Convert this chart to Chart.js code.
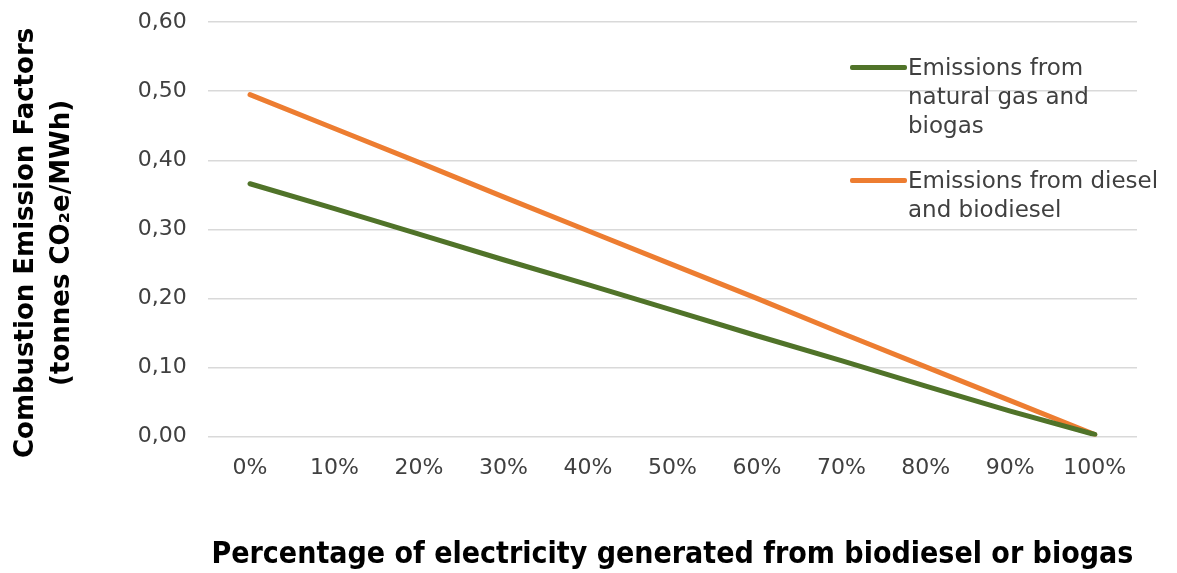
<!DOCTYPE html>
<html lang="en">
<head>
  <meta charset="UTF-8">
  <title>Combustion Emission Factors</title>
  <script src="https://cdn.jsdelivr.net/npm/chart.js"></script>
  <style>
    body { margin: 0; background: #fff; }
    #wrap { position: relative; width: 1177px; height: 573px; }
    .leg { position: absolute; font-family: "DejaVu Sans", Verdana, sans-serif; font-size: 23px; line-height: 29px; color: #404040; white-space: nowrap; }
    .leg i { position: absolute; left: -58px; top: 12px; width: 57px; height: 5px; border-radius: 2px; }
  </style>
</head>
<body>
  <div id="wrap">
    <canvas id="chart" width="1177" height="573"></canvas>
    <div class="leg" style="left:908px; top:53px;"><i style="background:#507329"></i>Emissions from<br>natural gas and<br>biogas</div>
    <div class="leg" style="left:908px; top:166px;"><i style="background:#ed7d31"></i>Emissions from diesel<br>and biodiesel</div>
  </div>
  <script>
    // categories (share of bio fuel)
    const labels = ['0%', '10%', '20%', '30%', '40%', '50%', '60%', '70%', '80%', '90%', '100%'];
    // values
    const gasValues = [0.366, 0.330, 0.293, 0.256, 0.220, 0.183, 0.146, 0.110, 0.073, 0.037, 0.003];
    const dieselValues = [0.495, 0.446, 0.397, 0.347, 0.298, 0.249, 0.200, 0.150, 0.101, 0.052, 0.003];

    const ctx = document.getElementById('chart').getContext('2d');
    const chart = new Chart(ctx, {
      type: 'line',
      data: {
        labels: labels,
        datasets: [{
          label: 'Emissions from natural gas and biogas',
          data: gasValues,
          borderColor: '#507329',
          borderWidth: 5,
          pointRadius: 0,
          borderCapStyle: 'round',
          fill: false
        }, {
          label: 'Emissions from diesel and biodiesel',
          data: dieselValues,
          borderColor: '#ed7d31',
          borderWidth: 5,
          pointRadius: 0,
          borderCapStyle: 'round',
          fill: false
        }]
      },
      options: {
        responsive: false,
        animation: false,
        layout: { padding: { top: 0, right: 40, left: 8, bottom: 0 } },
        plugins: {
          legend: { display: false },
          tooltip: { enabled: false }
        },
        scales: {
          x: {
            offset: true,
            grid: { display: false },
            border: { display: false },
            ticks: {
              color: '#404040',
              padding: 10,
              font: { family: 'DejaVu Sans', size: 22 }
            },
            title: {
              display: true,
              text: 'Percentage of electricity generated from biodiesel or biogas',
              color: '#000',
              padding: { top: 46, bottom: 0 },
              font: { family: 'DejaVu Sans Condensed', size: 30, weight: 'bold' }
            }
          },
          y: {
            min: 0,
            max: 0.6,
            ticks: {
              stepSize: 0.1,
              color: '#404040',
              padding: 21,
              // small line height so the top label does not push the plot down
              font: { family: 'DejaVu Sans', size: 22, lineHeight: 0.1 },
              callback: (v) => v.toFixed(2).replace('.', ',')
            },
            grid: { color: '#d9d9d9', lineWidth: 1.5, drawTicks: false },
            border: { display: false },
            title: {
              display: true,
              // trailing spaces nudge the rotated title a bit lower, as in the source
              text: ['Combustion Emission Factors   ', '(tonnes CO\u2082e/MWh)   '],
              color: '#000',
              padding: { top: 0, bottom: 36 },
              font: { family: 'DejaVu Sans', size: 26, weight: 'bold', lineHeight: 1.4 }
            }
          }
        }
      }
    });
  </script>
</body>
</html>
